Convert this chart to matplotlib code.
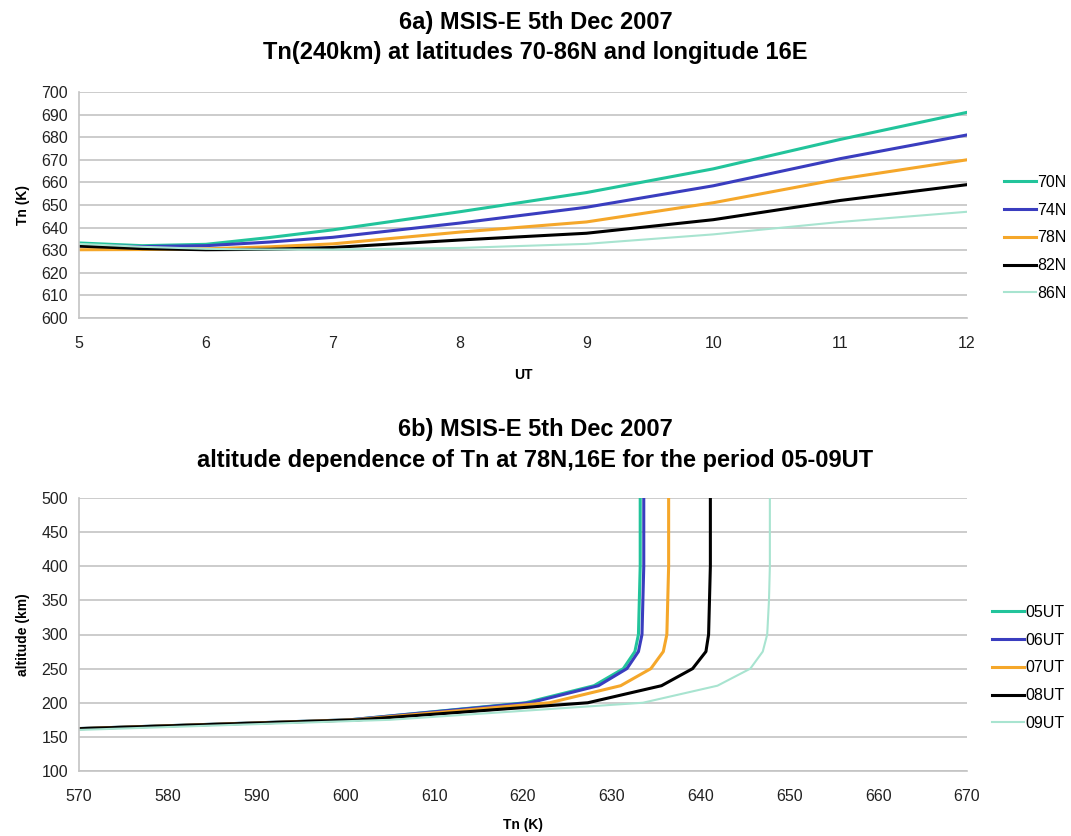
import numpy as np
import matplotlib.pyplot as plt

plt.rcParams['font.family'] = ['Liberation Sans', 'DejaVu Sans']

# 6a) Tn at 240 km versus UT, one series per latitude
ut = [5, 5.5, 6, 6.5, 7, 8, 9, 10, 11, 12]
lat_labels = ['70N', '74N', '78N', '82N', '86N']
tn_70n = [633.2, 632.0, 632.6, 635.6, 639.0, 647.0, 655.5, 666.0, 679.0, 691.0]
tn_74n = [632.0, 631.6, 632.0, 633.6, 635.7, 642.0, 649.0, 658.5, 670.5, 681.0]
tn_78n = [630.2, 630.3, 630.6, 631.5, 632.8, 638.0, 642.5, 651.0, 661.5, 670.0]
tn_82n = [631.8, 630.7, 630.2, 630.4, 631.2, 634.5, 637.5, 643.5, 652.0, 659.0]
tn_86n = [632.8, 631.5, 630.6, 630.3, 630.3, 631.0, 632.8, 637.0, 642.5, 647.0]

# 6b) altitude profiles at 78N, 16E
alt_km = [150, 175, 200, 225, 250, 275, 300, 350, 400, 450, 500]
ut_labels = ['05UT', '06UT', '07UT', '08UT', '09UT']
tn_05ut = [541, 600.5, 620.3, 628.0, 631.3, 632.6, 633.0, 633.1, 633.2, 633.2, 633.2]
tn_06ut = [541, 600.5, 620.8, 628.5, 631.7, 633.0, 633.4, 633.5, 633.6, 633.6, 633.6]
tn_07ut = [541, 601.0, 623.0, 631.0, 634.4, 635.8, 636.2, 636.3, 636.4, 636.4, 636.4]
tn_08ut = [541, 601.5, 627.3, 635.6, 639.1, 640.6, 640.9, 641.0, 641.1, 641.1, 641.1]
tn_09ut = [546, 605.0, 633.5, 641.9, 645.6, 647.0, 647.5, 647.7, 647.8, 647.8, 647.8]

colors = ['#22C49B', '#3A3DBF', '#F5A72A', '#000000', '#A8E4D0']
widths = [2.2, 2.2, 2.2, 2.2, 1.5]

W, H = 1071, 836
fig = plt.figure(figsize=(W / 100, H / 100), dpi=100)


def style_axes(ax):
    ax.grid(axis='y', color='#C4C4C4', linewidth=1.2)
    ax.set_axisbelow(True)
    for s in ['top', 'right']:
        ax.spines[s].set_visible(False)
    for s in ['left', 'bottom']:
        ax.spines[s].set_color('#C4C4C4')
        ax.spines[s].set_linewidth(1.2)
    ax.tick_params(length=0, labelsize=11.5, colors='#222222')


# ---- top chart ----
ax1 = fig.add_axes([79 / W, 1 - 318 / H, 888 / W, 226 / H])
for vals, lab, c, lw in zip([tn_70n, tn_74n, tn_78n, tn_82n, tn_86n],
                            lat_labels, colors, widths):
    ax1.plot(ut, vals, color=c, linewidth=lw, label=lab)
ax1.set_xlim(5, 12)
ax1.set_ylim(600, 700)
ax1.set_yticks(np.arange(600, 701, 10))
ax1.set_xticks(range(5, 13))
style_axes(ax1)
ax1.tick_params(axis='x', pad=13)
ax1.tick_params(axis='y', pad=8)
ax1.set_xlabel('UT', fontweight='bold', fontsize=10, labelpad=12)
ax1.set_ylabel('Tn (K)', fontweight='bold', fontsize=10, labelpad=8)
fig.legend(handles=ax1.get_lines(), loc='center left',
           bbox_to_anchor=(998 / W, 1 - 238 / H), frameon=False,
           fontsize=11.5, handlelength=2.0, handletextpad=0.05,
           labelspacing=0.8, borderaxespad=0)

fig.text(0.5, 1 - 22 / H, '6a) MSIS-E 5th Dec 2007', ha='center', va='center',
         fontsize=17, fontweight='bold')
fig.text(0.5, 1 - 52 / H, 'Tn(240km) at latitudes 70-86N and longitude 16E',
         ha='center', va='center', fontsize=17, fontweight='bold')

# ---- bottom chart ----
ax2 = fig.add_axes([79 / W, 1 - 771 / H, 888 / W, 273 / H])
for vals, lab, c, lw in zip([tn_05ut, tn_06ut, tn_07ut, tn_08ut, tn_09ut],
                            ut_labels, colors, widths):
    ax2.plot(vals, alt_km, color=c, linewidth=lw, label=lab)
ax2.set_xlim(570, 670)
ax2.set_ylim(100, 500)
ax2.set_xticks(np.arange(570, 671, 10))
ax2.set_yticks(np.arange(100, 501, 50))
style_axes(ax2)
ax2.tick_params(axis='x', pad=13)
ax2.tick_params(axis='y', pad=8)
ax2.set_xlabel('Tn (K)', fontweight='bold', fontsize=10, labelpad=10)
ax2.set_ylabel('altitude (km)', fontweight='bold', fontsize=10, labelpad=8)
fig.legend(handles=ax2.get_lines(), loc='center left',
           bbox_to_anchor=(986 / W, 1 - 668 / H), frameon=False,
           fontsize=11.5, handlelength=2.0, handletextpad=0.05,
           labelspacing=0.8, borderaxespad=0)

fig.text(0.5, 1 - 430 / H, '6b) MSIS-E 5th Dec 2007', ha='center', va='center',
         fontsize=17, fontweight='bold')
fig.text(0.5, 1 - 461 / H, 'altitude dependence of Tn at 78N,16E for the period 05-09UT',
         ha='center', va='center', fontsize=17, fontweight='bold')

fig.savefig('out.png', dpi=100)
